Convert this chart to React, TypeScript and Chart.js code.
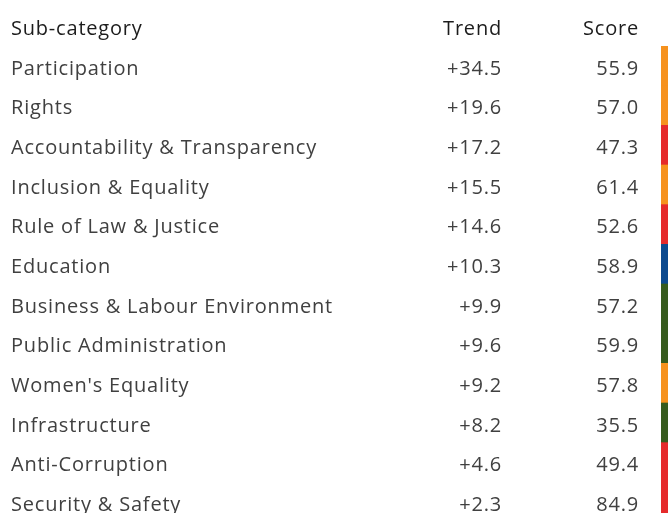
import React, { useEffect, useRef } from 'react';
import { Chart, registerables } from 'chart.js';

Chart.register(...registerables);

const subCategories = [
  'Participation',
  'Rights',
  'Accountability & Transparency',
  'Inclusion & Equality',
  'Rule of Law & Justice',
  'Education',
  'Business & Labour Environment',
  'Public Administration',
  "Women's Equality",
  'Infrastructure',
  'Anti-Corruption',
  'Security & Safety',
];

const trends = [34.5, 19.6, 17.2, 15.5, 14.6, 10.3, 9.9, 9.6, 9.2, 8.2, 4.6, 2.3];
const scores = [55.9, 57.0, 47.3, 61.4, 52.6, 58.9, 57.2, 59.9, 57.8, 35.5, 49.4, 84.9];

const pillarNames = [
  'Participation, Rights & Inclusion',
  'Security & Rule of Law',
  'Human Development',
  'Foundations for Economic Opportunity',
];
const pillarColors = ['#F6921E', '#E52A2B', '#0C4A8F', '#365B1E'];
const rowPillar = [0, 0, 1, 0, 1, 2, 3, 3, 0, 3, 1, 1];
const bandFill = [1, 1, 1, 1, 1, 1, 1, 1, 1, 1, 1, 1];

const headers = ['Sub-category', 'Trend', 'Score'];

const FONT = '"Open Sans", "Noto Sans", sans-serif';
const FONT_SIZE = 20;
const LETTER_SPACING = '0.8px';
const TEXT_COLOR = '#404040';
const HEADER_COLOR = '#1c1c1c';
const LABEL_SHIFT = 3;

const tablePlugin = {
  id: 'tableText',
  beforeDraw(chart: any) {
    chart.ctx.letterSpacing = LETTER_SPACING;
  },
  afterDraw(chart: any) {
    const { ctx } = chart;
    const y = chart.scales.y;
    const trendX = 502;
    const scoreX = 639;
    const leftX = 11;
    ctx.save();
    ctx.letterSpacing = LETTER_SPACING;
    ctx.font = `${FONT_SIZE}px ${FONT}`;
    ctx.textBaseline = 'middle';
    const hy = y.getPixelForValue(-1) + LABEL_SHIFT;
    ctx.fillStyle = HEADER_COLOR;
    ctx.textAlign = 'left';
    ctx.fillText(headers[0], leftX, hy);
    ctx.textAlign = 'right';
    ctx.fillText(headers[1], trendX, hy);
    ctx.fillText(headers[2], scoreX, hy);
    ctx.fillStyle = TEXT_COLOR;
    for (let i = 0; i < subCategories.length; i++) {
      const py = y.getPixelForValue(i) + LABEL_SHIFT;
      ctx.textAlign = 'right';
      const t = trends[i];
      ctx.fillText((t >= 0 ? '+' : '') + t.toFixed(1), trendX, py);
      ctx.fillText(scores[i].toFixed(1), scoreX, py);
    }
    ctx.restore();
  },
};

export default function App() {
  const ref = useRef<HTMLCanvasElement | null>(null);

  useEffect(() => {
    if (!ref.current) return;
    const chart = new Chart(ref.current, {
      type: 'bar',
      data: {
        labels: subCategories,
        datasets: [
          {
            label: 'Pillar',
            data: bandFill,
            backgroundColor: rowPillar.map((p) => pillarColors[p]),
            borderWidth: 0,
            barPercentage: 1,
            categoryPercentage: 1,
          },
        ],
      },
      options: {
        indexAxis: 'y',
        animation: false,
        responsive: false,
        maintainAspectRatio: false,
        devicePixelRatio: 1,
        layout: { padding: { top: 46, left: 11, right: 0, bottom: 0 } },
        plugins: {
          legend: { display: false },
          tooltip: { enabled: false },
        },
        scales: {
          x: { display: false, min: 0, max: 1 },
          y: {
            type: 'category',
            offset: true,
            grid: { display: false },
            border: { display: false },
            afterFit: (scale: any) => {
              scale.width = 650;
              scale.paddingTop = 0;
              scale.paddingBottom = 0;
            },
            ticks: {
              crossAlign: 'far',
              autoSkip: false,
              labelOffset: LABEL_SHIFT,
              color: TEXT_COLOR,
              font: { family: FONT, size: FONT_SIZE },
            },
          },
        },
      },
      plugins: [tablePlugin],
    });
    return () => chart.destroy();
  }, []);

  return (
    <div
      style={{
        position: 'fixed',
        left: 0,
        top: 0,
        width: 668,
        height: 513,
        overflow: 'hidden',
        background: '#ffffff',
      }}
    >
      <canvas ref={ref} width={668} height={522} style={{ display: 'block' }} />
    </div>
  );
}
